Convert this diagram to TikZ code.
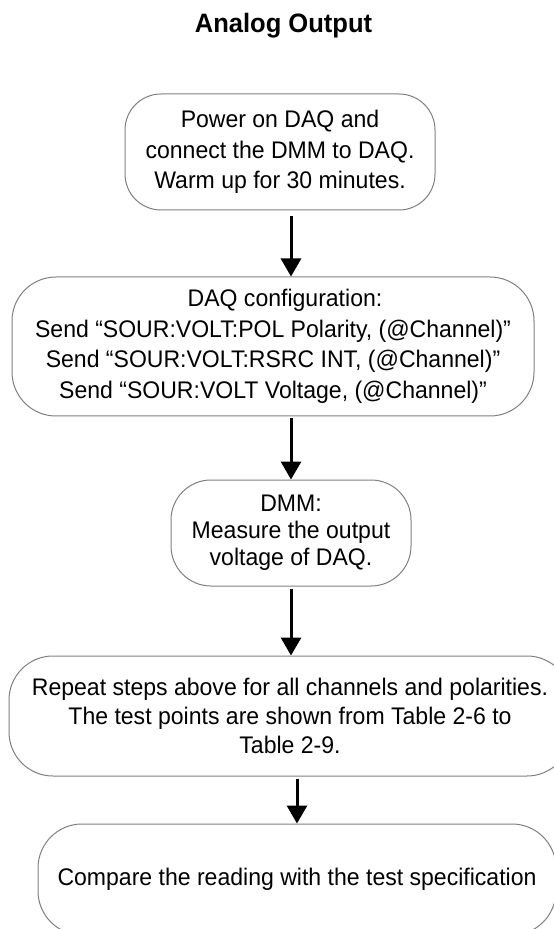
\documentclass[tikz,border=0pt]{standalone}
\usepackage{fontspec}
\setmainfont{Liberation Sans}[FakeStretch=0.96]
\usepackage{xcolor}
\usetikzlibrary{arrows.meta,positioning,calc}
\definecolor{boxgray}{RGB}{128,128,128}

\begin{document}
\begin{tikzpicture}[
    x=0.5pt, y=-0.5pt,
    stepbox/.style={draw=boxgray, line width=0.5pt, rounded corners=20pt, align=center, inner sep=0pt, font=\fontsize{12pt}{15.25pt}\selectfont},
    flow/.style={-{Triangle[width=10pt,length=9pt]}, line width=1.5pt, shorten <=1pt},
]
    \useasboundingbox (0,0) rectangle (553,929);
    \node[font=\bfseries\fontsize{13.3pt}{16pt}\selectfont, anchor=base] (title) at (283.5,33) {Analog Output};
    % Steps
    \node[stepbox, minimum width=155pt, minimum height=58pt, rounded corners=18pt] (power) at (280,152)
        {Power on DAQ and\\connect the DMM to DAQ.\\Warm up for 30 minutes.};
    \node[stepbox, minimum width=261pt, minimum height=69.5pt, rounded corners=22pt] (config) at (273,346.5)
        {\hspace*{12pt}DAQ configuration:\\Send “SOUR:VOLT:POL Polarity, (@Channel)”\\Send “SOUR:VOLT:RSRC INT, (@Channel)”\\Send “SOUR:VOLT Voltage, (@Channel)”};
    \node[stepbox, minimum width=120pt, minimum height=53pt, font=\fontsize{12pt}{13.5pt}\selectfont] (dmm) at (291,533)
        {DMM:\\Measure the output\\voltage of DAQ.};
    \node[stepbox, minimum width=281pt, minimum height=60pt, rounded corners=22pt, font=\fontsize{12pt}{14.5pt}\selectfont] (repeat) at (290,716)
        {Repeat steps above for all channels and polarities.\\The test points are shown from Table 2-6 to\hspace*{14pt}\\Table 2-9.};
    \node[stepbox, minimum width=259pt, minimum height=55.5pt, rounded corners=22pt] (compare) at (297,879.5)
        {Compare the reading with the test specification};
    % Arrows
    \draw[flow, shorten <=3pt] (power.south -| dmm) -- (config.north -| dmm);
    \draw[flow] (config.south -| dmm) -- (dmm.north);
    \draw[flow] (dmm.south) -- (repeat.north -| dmm);
    \draw[flow] (repeat.south -| compare) -- (compare.north);
\end{tikzpicture}
\end{document}
